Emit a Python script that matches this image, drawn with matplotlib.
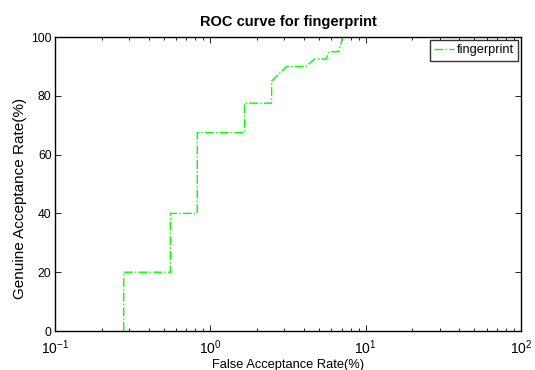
import matplotlib
matplotlib.use("Agg")
import matplotlib.pyplot as plt
from matplotlib.ticker import LogLocator

plt.rcParams['font.family'] = ['Liberation Sans', 'DejaVu Sans']
plt.rcParams['mathtext.fontset'] = 'custom'
plt.rcParams['mathtext.rm'] = 'Liberation Sans'
plt.rcParams['mathtext.it'] = 'Liberation Sans:italic'
plt.rcParams['mathtext.bf'] = 'Liberation Sans:bold'

far = [0.277, 0.277, 0.553, 0.553, 0.824, 0.824, 1.66, 1.66, 2.48, 2.48, 3.10, 4.14,
       4.68, 5.56, 5.84, 6.70, 7.11, 100]
gar = [0, 20, 20, 40, 40, 67.5, 67.5, 77.5, 77.5, 85, 90, 90,
       92.5, 92.5, 95, 95, 100, 100]
series_name = "fingerprint"
title = "ROC curve for fingerprint"
xlabel = "False Acceptance Rate(%)"
ylabel = "Genuine Acceptance Rate(%)"
yticks = [0, 20, 40, 60, 80, 100]

fig = plt.figure(figsize=(5.35, 3.70), dpi=100)
ax = fig.add_axes([55/535, 39/370, 466/535, 294/370])
ax.plot(far, gar, color=(0, 1, 0), linestyle='-.', linewidth=1.0, label=series_name)
ax.set_xscale('log')
ax.set_xlim(0.1, 100)
ax.set_ylim(0, 100)
ax.set_yticks(yticks)
ax.xaxis.set_major_locator(LogLocator(base=10, numticks=10))
ax.xaxis.set_minor_locator(LogLocator(base=10, subs=range(2, 10), numticks=10))
ax.tick_params(which='both', direction='in', top=True, right=True, width=0.6)
ax.tick_params(axis='y', labelsize=8.7, pad=2.5)
ax.tick_params(axis='x', labelsize=10, pad=5.5)
ax.tick_params(which='major', length=4)
ax.tick_params(which='minor', length=2)
for s in ax.spines.values():
    s.set_linewidth(1.0)
ax.set_title(title, fontsize=10.5, fontweight='bold', pad=8)
ax.set_xlabel(xlabel, fontsize=9.3, labelpad=1)
ax.set_ylabel(ylabel, fontsize=11, labelpad=3)
ax.yaxis.set_label_coords(-0.060, 0.45)
leg = ax.legend(loc='upper right', fontsize=9.2, frameon=True, fancybox=False,
                borderaxespad=0.2, handlelength=1.5, handletextpad=0.25,
                borderpad=0.35)
leg.get_frame().set_edgecolor('black')
leg.get_frame().set_linewidth(1.0)
fig.savefig("out.png", dpi=100)
